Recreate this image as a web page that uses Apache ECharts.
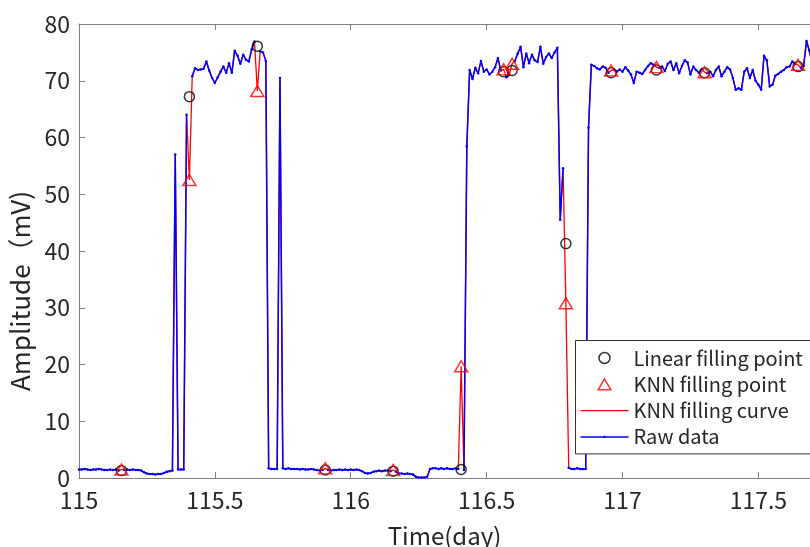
<!DOCTYPE html>
<html>
<head>
<meta charset="utf-8">
<script src="https://cdn.jsdelivr.net/npm/echarts@6/dist/echarts.min.js"></script>
<style>
  html, body { margin: 0; padding: 0; background: #fff; }
  #chart { width: 810px; height: 547px; }
</style>
</head>
<body>
<div id="chart"></div>
<script>
// sampling: one reading every 15 minutes (1/96 day) starting at day 115
const startDay = 115
const samplesPerDay = 96

// raw amplitude readings (mV), null = missing sample
const rawValues = [
  1.5, 1.5, 1.6, 1.5, 1.4, 1.5, 1.5, 1.6, 1.5, 1.4,
  1.4, 1.5, 1.4, 1.5, 1.3, null, 1.4, 1.5, 1.4, 1.5,
  1.4, 1.4, 1.3, 1.0, 0.8, 0.7, 0.7, 0.6, 0.7, 0.7,
  0.9, 1.1, 1.2, 1.3, 57, 1.5, 1.5, 1.5, 64, null,
  70.8, 72.2, 71.9, 72.0, 72.1, 73.4, 71.8, 70.5, 69.6, 70.6,
  71.6, 72.5, 71.4, 73.1, 71.4, 75.3, 74.4, 73.0, 74.6, 73.7,
  73.4, 75.5, 76.9, null, 75.2, 75.0, 73.5, 1.7, 1.6, 1.6,
  1.6, 70.5, 1.7, 1.6, 1.7, 1.6, 1.6, 1.6, 1.5, 1.6,
  1.5, 1.5, 1.6, 1.5, 1.4, 1.3, 1.4, null, 1.4, 1.3,
  1.4, 1.4, 1.5, 1.4, 1.5, 1.4, 1.5, 1.4, 1.5, 1.4,
  1.2, 0.9, 0.8, 0.9, 1.1, 1.2, 1.3, 1.2, 1.3, 1.3,
  1.2, null, 1.1, 0.8, 0.8, 0.7, 0.8, 0.7, 0.6, 0.2,
  0.1, 0.1, 0.1, 0.2, 1.6, 1.7, 1.7, 1.6, 1.7, 1.6,
  1.7, 1.6, 1.6, 1.7, 1.6, null, 1.4, 58.4, 71.9, 70.3,
  72.3, 71.3, 73.5, 71.6, 72.0, 71.1, 71.6, 72.4, 74.0, 71.8,
  null, 70.6, 71.0, null, 73.5, 74.8, 76.0, 72.4, 74.8, 73.1,
  74.6, 73.6, 73.3, 76.0, 73.0, 74.2, 74.8, 74.0, 75.0, 75.8,
  45.5, 54.6, null, 1.8, 1.6, 1.6, 1.7, 1.6, 1.6, 1.6,
  61.7, 72.8, 72.6, 72.2, 72.0, 72.5, 72.3, 71.4, null, 72.0,
  71.6, 72.0, 71.6, 72.4, 71.8, 71.1, 69.6, 71.6, 71.4, 71.2,
  71.9, 72.6, 73.1, 72.8, null, 72.3, 72.5, 71.7, 73.0, 73.4,
  71.9, 73.1, 71.3, 72.6, 73.6, 73.2, 71.1, 72.5, 71.9, 71.4,
  72.0, null, 71.3, 71.6, 70.8, 71.9, 72.5, 70.8, 71.6, 72.4,
  72.0, 70.5, 68.4, 68.7, 68.4, 71.6, 72.2, 70.5, 71.9, 70.0,
  69.3, 68.4, 74.4, 73.6, 69.0, 69.3, 70.9, 71.2, 71.6, 71.9,
  72.4, 72.5, 73.4, 73.0, null, 72.3, 72.6, 77.0, 75.3, 73.0
]

// filled samples: index into rawValues, linear fill value, KNN fill value
const fillIndex = [15, 39, 63, 87, 111, 135, 150, 153, 172, 188, 204, 221, 254]
const linearFill = [1.3, 67.2, 76.1, 1.4, 1.2, 1.5, 71.6, 71.8, 41.3, 71.4, 71.9, 71.4, 72.5]
const knnFill = [1.5, 52.5, 68.2, 1.7, 1.4, 19.7, 72.0, 73.0, 30.8, 71.8, 72.4, 71.5, 72.8]

const xTicks = { min: 115, max: 117.69, step: 0.5 }
const yTicks = { min: 0, max: 80, step: 10 }

const dayOf = (i) => startDay + i / samplesPerDay

const rawData = rawValues.map((v, i) => [dayOf(i), v])
const knnCurve = rawValues.slice()
fillIndex.forEach((idx, k) => { knnCurve[idx] = knnFill[k] })
const knnCurveData = knnCurve.map((v, i) => [dayOf(i), v])
const linearPoints = fillIndex.map((idx, k) => [dayOf(idx), linearFill[k]])
const knnPoints = fillIndex.map((idx, k) => [dayOf(idx), knnFill[k]])

const font = "'Noto Sans CJK SC', 'Noto Sans', sans-serif"
const textColor = '#262626'
const axisColor = '#808080'

const chart = echarts.init(document.getElementById('chart'))
const option = {
  animation: false,
  backgroundColor: '#fff',
  textStyle: { fontFamily: font },
  grid: { left: 79, top: 24, right: 0, bottom: 69, containLabel: false, outerBoundsMode: 'none' },
  legend: {
    orient: 'vertical',
    left: 575.5,
    top: 340.5,
    padding: [5.5, 12, 5, 5],
    itemWidth: 48,
    itemHeight: 11,
    itemGap: 2.3,
    backgroundColor: '#fff',
    borderColor: '#333',
    borderWidth: 1,
    textStyle: { fontFamily: font, fontSize: 20, color: textColor, lineHeight: 24 },
    data: [
      { name: 'Linear filling point', icon: 'circle', itemStyle: { color: 'rgba(0,0,0,0)', borderColor: '#000', borderWidth: 1.5 } },
      { name: 'KNN filling point', icon: 'path://M6,0L12,10.4H0Z', itemStyle: { color: 'rgba(0,0,0,0)', borderColor: '#ff0000', borderWidth: 1.5 } },
      { name: 'KNN filling curve', icon: 'path://M0,0H48V1.2H0Z', itemStyle: { color: '#ff0000', borderWidth: 0 } },
      { name: 'Raw data', icon: 'path://M0,0.4H23.2V0H24.8V0.4H48V1.9H24.8V2.3H23.2V1.9H0Z', itemStyle: { color: '#0000ff', borderWidth: 0 } }
    ]
  },
  xAxis: [
    {
      type: 'value',
      position: 'bottom',
      min: xTicks.min,
      max: xTicks.max,
      interval: xTicks.step,
      name: 'Time(day)',
      nameLocation: 'middle',
      nameGap: 46,
      nameTextStyle: { fontSize: 24, color: textColor },
      axisLine: { show: true, lineStyle: { color: axisColor, width: 1 } },
      axisTick: { show: true, inside: true, length: 6, lineStyle: { color: axisColor } },
      axisLabel: { fontSize: 23, color: textColor, margin: 11, showMaxLabel: false },
      splitLine: { show: false }
    },
    {
      type: 'value',
      position: 'top',
      min: xTicks.min,
      max: xTicks.max,
      interval: xTicks.step,
      axisLine: { show: true, lineStyle: { color: axisColor, width: 1 } },
      axisTick: { show: true, inside: true, length: 6, lineStyle: { color: axisColor } },
      axisLabel: { show: false },
      splitLine: { show: false }
    }
  ],
  yAxis: {
    type: 'value',
    min: yTicks.min,
    max: yTicks.max,
    interval: yTicks.step,
    name: 'Amplitude（mV)',
    nameLocation: 'middle',
    nameGap: 40,
    nameTextStyle: { fontSize: 26, color: textColor, padding: [0, 80, 0, 0] },
    axisLine: { show: true, lineStyle: { color: axisColor, width: 1 } },
    axisTick: { show: true, inside: true, length: 6, lineStyle: { color: axisColor } },
    axisLabel: { fontSize: 23, color: textColor, margin: 9 },
    splitLine: { show: false }
  },
  series: [
    {
      name: 'Linear filling point',
      type: 'scatter',
      data: linearPoints,
      symbol: 'circle',
      symbolSize: 10,
      z: 5,
      itemStyle: { color: 'rgba(0,0,0,0)', borderColor: '#000', borderWidth: 1.5 }
    },
    {
      name: 'KNN filling point',
      type: 'scatter',
      data: knnPoints,
      symbol: 'triangle',
      symbolSize: [13, 11],
      z: 6,
      itemStyle: { color: 'rgba(0,0,0,0)', borderColor: '#ff0000', borderWidth: 1.5 }
    },
    {
      name: 'KNN filling curve',
      type: 'line',
      data: knnCurveData,
      symbol: 'none',
      z: 2,
      lineStyle: { color: '#ff0000', width: 1.3 },
      itemStyle: { color: '#ff0000' }
    },
    {
      name: 'Raw data',
      type: 'line',
      data: rawData,
      symbol: 'circle',
      symbolSize: 2.5,
      showSymbol: true,
      showAllSymbol: true,
      connectNulls: false,
      z: 3,
      lineStyle: { color: '#0000ff', width: 1.5 },
      itemStyle: { color: '#0000ff', borderWidth: 0 }
    }
  ]
}
option && chart.setOption(option)
</script>
</body>
</html>
